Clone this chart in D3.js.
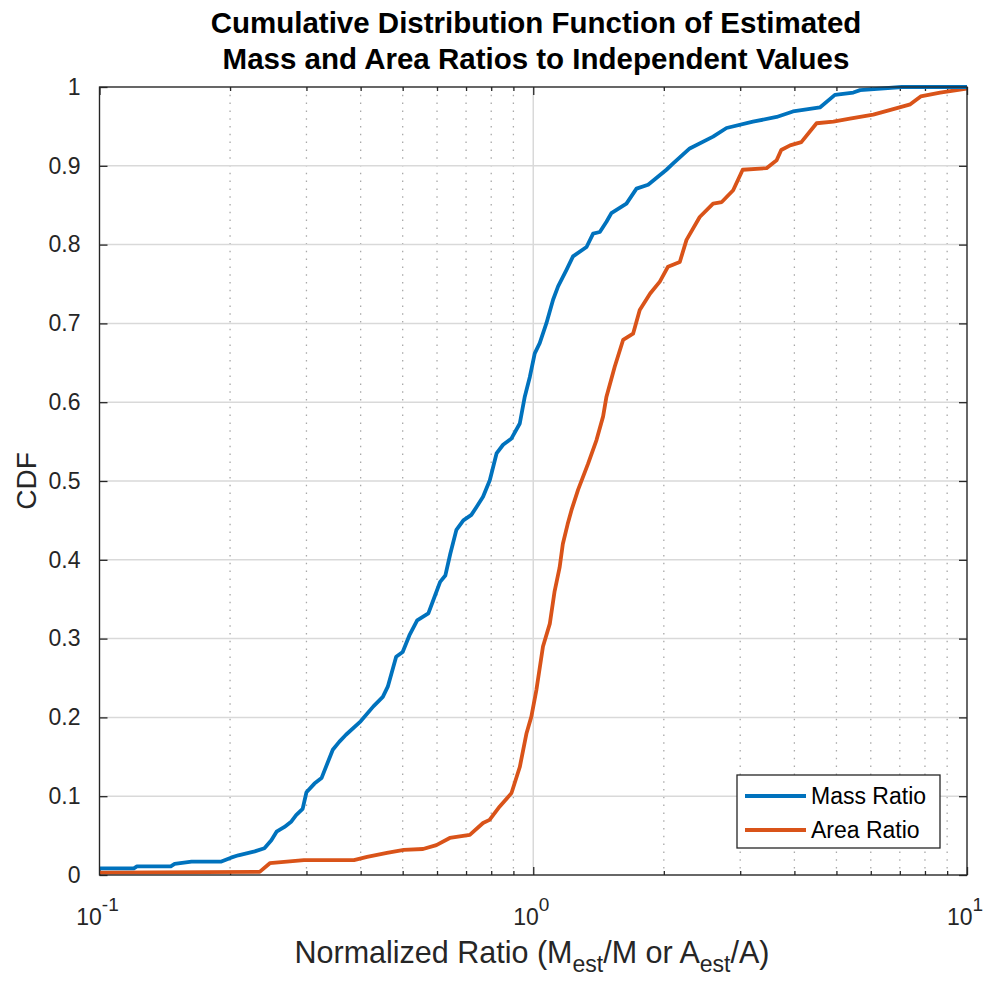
<!DOCTYPE html>
<html><head><meta charset="utf-8">
<script src="https://cdn.jsdelivr.net/npm/d3@7"></script>
<style>body{margin:0;background:#fff;} svg{display:block;font-family:"Liberation Sans",Arial,sans-serif;}</style>
</head><body>
<svg id="chart" width="987" height="981"></svg>
<script>
const titleLines = ["Cumulative Distribution Function of Estimated", "Mass and Area Ratios to Independent Values"];
const seriesNames = ["Mass Ratio", "Area Ratio"];
const yTicks = [0,0.1,0.2,0.3,0.4,0.5,0.6,0.7,0.8,0.9,1];
const yTickLabels = ["0","0.1","0.2","0.3","0.4","0.5","0.6","0.7","0.8","0.9","1"];
const xMajorTicks = [0.1, 1, 10];
const xMajorExps = ["-1", "0", "1"];

const massX = [0.1,0.12,0.122,0.146,0.149,0.163,0.191,0.201,0.209,0.228,0.240,0.249,0.256,0.267,0.277,0.284,0.294,0.300,0.313,0.325,0.345,0.357,0.370,0.400,0.428,0.450,0.462,0.483,0.500,0.518,0.540,0.573,0.594,0.610,0.627,0.644,0.665,0.690,0.720,0.740,0.766,0.794,0.823,0.852,0.891,0.931,0.956,0.982,1.008,1.035,1.072,1.111,1.141,1.193,1.235,1.327,1.374,1.424,1.475,1.514,1.640,1.730,1.840,2.028,2.102,2.295,2.598,2.79,3.21,3.64,3.97,4.58,4.96,5.47,5.67,7.07,10];
const massY = [0.0085,0.0085,0.011,0.011,0.014,0.017,0.017,0.022,0.025,0.030,0.034,0.044,0.055,0.061,0.068,0.076,0.084,0.105,0.116,0.123,0.159,0.169,0.178,0.195,0.214,0.226,0.239,0.277,0.283,0.304,0.323,0.332,0.355,0.372,0.380,0.408,0.438,0.450,0.457,0.467,0.480,0.501,0.535,0.546,0.554,0.573,0.607,0.632,0.662,0.675,0.700,0.730,0.747,0.768,0.785,0.797,0.814,0.816,0.829,0.840,0.852,0.871,0.876,0.895,0.903,0.922,0.937,0.948,0.956,0.962,0.969,0.974,0.990,0.993,0.996,1.0,1.0];

const areaX = [0.1,0.234,0.247,0.296,0.386,0.414,0.46,0.503,0.557,0.598,0.642,0.714,0.766,0.793,0.837,0.891,0.931,0.965,0.990,1.017,1.053,1.092,1.12,1.15,1.17,1.20,1.225,1.269,1.338,1.399,1.449,1.475,1.541,1.611,1.699,1.76,1.86,1.958,2.045,2.177,2.256,2.42,2.598,2.72,2.89,3.04,3.45,3.64,3.73,3.91,4.15,4.5,4.92,5.37,6.08,6.76,7.4,7.82,8.67,10];
const areaY = [0.003,0.004,0.015,0.019,0.019,0.023,0.028,0.032,0.033,0.038,0.047,0.051,0.066,0.070,0.087,0.104,0.137,0.180,0.201,0.235,0.290,0.319,0.36,0.39,0.42,0.445,0.463,0.489,0.522,0.552,0.582,0.607,0.645,0.679,0.687,0.717,0.738,0.753,0.772,0.778,0.806,0.835,0.852,0.854,0.869,0.895,0.897,0.907,0.920,0.926,0.930,0.954,0.956,0.960,0.965,0.972,0.978,0.988,0.993,0.998];

const colors = ["#0072BD", "#D95319"];

const svg = d3.select("#chart");
const L = 99.5, R = 967, T = 87, B = 875;
const x = d3.scaleLog().domain([0.1, 10]).range([L, R]);
const y = d3.scaleLinear().domain([0, 1]).range([B, T]);

const xMinor = [];
[0.1, 1].forEach(d => { for (let k = 2; k <= 9; k++) xMinor.push(d * k); });

const g = svg.append("g");
g.selectAll(".mg").data(xMinor).enter().append("line")
  .attr("x1", d => x(d)).attr("x2", d => x(d)).attr("y1", T).attr("y2", B)
  .attr("stroke", "#a8a8a8").attr("stroke-width", 1.3).attr("stroke-dasharray", "1.5,6.3");
g.selectAll(".yg").data(yTicks).enter().append("line")
  .attr("x1", L).attr("x2", R).attr("y1", d => y(d)).attr("y2", d => y(d))
  .attr("stroke", "#d9d9d9").attr("stroke-width", 1.5);
g.selectAll(".xg").data(xMajorTicks).enter().append("line")
  .attr("x1", d => x(d)).attr("x2", d => x(d)).attr("y1", T).attr("y2", B)
  .attr("stroke", "#d9d9d9").attr("stroke-width", 1.5);

const axisColor = "#262626";
const yAxisL = d3.axisLeft(y).tickValues(yTicks).tickFormat((d, i) => yTickLabels[i]).tickSizeInner(-8).tickSizeOuter(0).tickPadding(19);
const yAxisR = d3.axisRight(y).tickValues(yTicks).tickFormat("").tickSizeInner(-8).tickSizeOuter(0);
const xAxisB = d3.axisBottom(x).tickValues(xMajorTicks).tickFormat("").tickSizeInner(-8).tickSizeOuter(0);
const xAxisT = d3.axisTop(x).tickValues(xMajorTicks).tickFormat("").tickSizeInner(-8).tickSizeOuter(0);
const xMinorB = d3.axisBottom(x).tickValues(xMinor).tickFormat("").tickSizeInner(-4).tickSizeOuter(0);
const xMinorT = d3.axisTop(x).tickValues(xMinor).tickFormat("").tickSizeInner(-4).tickSizeOuter(0);

function styleAxis(sel) {
  sel.selectAll("path").remove();
  sel.selectAll("line").attr("stroke", axisColor).attr("stroke-width", 1.3);
  sel.selectAll("text").attr("fill", "#262626").style("font-size", "23px").style("font-family", "Liberation Sans, Arial, sans-serif");
}
svg.append("g").attr("transform", `translate(${L},0)`).call(yAxisL).call(styleAxis);
svg.append("g").attr("transform", `translate(${R},0)`).call(yAxisR).call(styleAxis);
svg.append("g").attr("transform", `translate(0,${B})`).call(xAxisB).call(styleAxis);
svg.append("g").attr("transform", `translate(0,${T})`).call(xAxisT).call(styleAxis);
svg.append("g").attr("transform", `translate(0,${B})`).call(xMinorB).call(styleAxis);
svg.append("g").attr("transform", `translate(0,${T})`).call(xMinorT).call(styleAxis);

xMajorTicks.forEach((d, i) => {
  const t = svg.append("text").attr("x", x(d) - 2).attr("y", B + 50).attr("text-anchor", "middle")
    .attr("fill", "#262626").style("font-size", "23px");
  t.append("tspan").text("10");
  t.append("tspan").attr("dy", -14).style("font-size", "19px").text(xMajorExps[i]);
});

svg.append("clipPath").attr("id", "clip").append("rect")
  .attr("x", L).attr("y", T - 3).attr("width", R - L).attr("height", B - T + 6);
const line = d3.line().x(d => x(d[0])).y(d => y(d[1]));
const massData = massX.map((v, i) => [v, massY[i]]);
const areaData = areaX.map((v, i) => [v, areaY[i]]);
svg.append("path").datum(areaData).attr("d", line).attr("fill", "none")
  .attr("stroke", colors[1]).attr("stroke-width", 3.8).attr("stroke-linejoin", "round").attr("clip-path", "url(#clip)");
svg.append("path").datum(massData).attr("d", line).attr("fill", "none")
  .attr("stroke", colors[0]).attr("stroke-width", 3.8).attr("stroke-linejoin", "round").attr("clip-path", "url(#clip)");

svg.append("rect").attr("x", L).attr("y", T).attr("width", R - L).attr("height", B - T)
  .attr("fill", "none").attr("stroke", axisColor).attr("stroke-width", 1.3);

titleLines.forEach((s, i) => {
  svg.append("text").attr("x", 536).attr("y", 33 + i * 36).attr("text-anchor", "middle")
    .style("font-size", "29.5px").style("font-weight", "bold").attr("fill", "#000").text(s);
});

svg.append("text").attr("transform", `translate(36,${(T + B) / 2}) rotate(-90)`).attr("text-anchor", "middle")
  .style("font-size", "28px").attr("fill", "#262626").text("CDF");

const xl = svg.append("text").attr("x", 532).attr("y", 963).attr("text-anchor", "middle")
  .style("font-size", "30.5px").attr("fill", "#262626");
xl.append("tspan").text("Normalized Ratio (M");
xl.append("tspan").attr("dy", 9).style("font-size", "23px").text("est");
xl.append("tspan").attr("dy", -9).text("/M or A");
xl.append("tspan").attr("dy", 9).style("font-size", "23px").text("est");
xl.append("tspan").attr("dy", -9).text("/A)");

const lg = svg.append("g");
lg.append("rect").attr("x", 737).attr("y", 775).attr("width", 203).attr("height", 73)
  .attr("fill", "#fff").attr("stroke", axisColor).attr("stroke-width", 1.3);
seriesNames.forEach((s, i) => {
  const yy = 796 + i * 34;
  lg.append("line").attr("x1", 745).attr("x2", 806).attr("y1", yy).attr("y2", yy)
    .attr("stroke", colors[i]).attr("stroke-width", 3.8);
  lg.append("text").attr("x", 811).attr("y", yy + 8).style("font-size", "23px").attr("fill", "#000").text(s);
});
</script>
</body></html>
